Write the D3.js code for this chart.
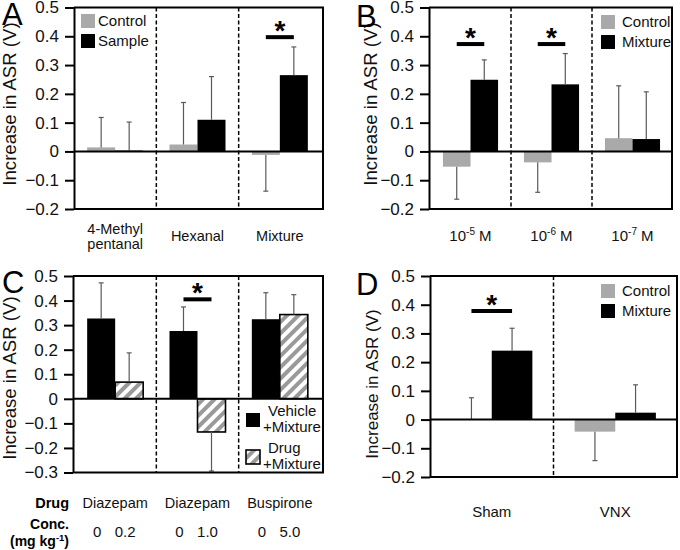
<!DOCTYPE html>
<html>
<head>
<meta charset="utf-8">
<script src="https://cdn.jsdelivr.net/npm/d3@7"></script>
<style>
  body { margin: 0; background: #fff; }
  svg { display: block; font-family: "Liberation Sans", Arial, sans-serif; }
</style>
</head>
<body>
<svg id="fig" width="680" height="550"></svg>
<script>
// ---- data ----
var ticksA = [-0.2, -0.1, 0, 0.1, 0.2, 0.3, 0.4, 0.5];
var ticksC = [-0.3, -0.2, -0.1, 0, 0.1, 0.2, 0.3, 0.4, 0.5];

var groupsA = [["4-Methyl", "pentanal"], ["Hexanal"], ["Mixture"]];
var controlA = [0.014, 0.024, -0.012];
var controlErrA = [0.104, 0.146, 0.126];
var sampleA = [0.003, 0.110, 0.265];
var sampleErrA = [0.099, 0.150, 0.098];

var groupsB = ["-5", "-6", "-7"]; // exponents of 10 M
var controlB = [-0.053, -0.038, 0.046];
var controlErrB = [0.113, 0.104, 0.182];
var mixtureB = [0.249, 0.233, 0.043];
var mixtureErrB = [0.069, 0.107, 0.164];

var drugsC = ["Diazepam", "Diazepam", "Buspirone"];
var vehicleConcC = ["0", "0", "0"];
var drugConcC = ["0.2", "1.0", "5.0"];
var vehicleC = [0.327, 0.276, 0.324];
var vehicleErrC = [0.145, 0.098, 0.108];
var drugC = [0.068, -0.135, 0.343];
var drugErrC = [0.119, 0.159, 0.081];

var groupsD = ["Sham", "VNX"];
var controlD = [0.002, -0.042];
var controlErrD = [0.074, 0.101];
var mixtureD = [0.240, 0.024];
var mixtureErrD = [0.078, 0.097];

var GRAY = "#a9a9a9";
var svg = d3.select("#fig");

// hatch for drug bars
var pat = svg.append("defs").append("pattern")
    .attr("id", "hatch")
    .attr("patternUnits", "userSpaceOnUse")
    .attr("width", 8).attr("height", 8)
    .attr("patternTransform", "rotate(45)");
pat.append("rect").attr("width", 8).attr("height", 8).attr("fill", "#fff");
pat.append("rect").attr("width", 4).attr("height", 8).attr("fill", "#9a9a9a");

var fmt = function (d) { return d === 0 ? "0" : d3.format(".1f")(d); };

function panel(o) {
    var g = svg.append("g");
    var y = d3.scaleLinear().domain(o.domain).range([o.bottom, o.top]);
    var x = d3.scaleBand().domain(d3.range(o.n)).range(o.xr);
    var xi = d3.scaleBand().domain(d3.range(o.series.length))
        .range([0, x.bandwidth()]).paddingOuter(o.pad);

    // bars
    o.series.forEach(function (s, si) {
        g.selectAll(null).data(s.values).enter().append("rect")
            .attr("x", function (d, i) { return x(i) + xi(si); })
            .attr("width", xi.bandwidth())
            .attr("y", function (d) { return y(Math.max(0, d)); })
            .attr("height", function (d) { return Math.abs(y(d) - y(0)); })
            .attr("fill", s.fill)
            .attr("stroke", s.stroke || "none")
            .attr("stroke-width", 1.6);
    });
    // error bars
    o.series.forEach(function (s, si) {
        s.values.forEach(function (v, i) {
            var cx = x(i) + xi(si) + xi.bandwidth() / 2;
            var end = v + (v < 0 ? -1 : 1) * s.errs[i];
            g.append("line").attr("x1", cx).attr("x2", cx)
                .attr("y1", y(v)).attr("y2", y(end))
                .attr("stroke", "#5a5a5a").attr("stroke-width", 1.2);
            g.append("line").attr("x1", cx - 2.5).attr("x2", cx + 2.5)
                .attr("y1", y(end)).attr("y2", y(end))
                .attr("stroke", "#5a5a5a").attr("stroke-width", 1.2);
        });
    });
    // group separators
    d3.range(1, o.n).forEach(function (i) {
        g.append("line").attr("x1", x(i)).attr("x2", x(i))
            .attr("y1", o.top).attr("y2", o.bottom)
            .attr("stroke", "#000").attr("stroke-width", 1.5)
            .attr("stroke-dasharray", "4,2.5");
    });
    // zero line and frame
    g.append("line").attr("x1", o.left).attr("x2", o.right)
        .attr("y1", y(0)).attr("y2", y(0))
        .attr("stroke", "#000").attr("stroke-width", 2);
    g.append("path")
        .attr("d", "M" + o.left + "," + o.top + "H" + o.right + "V" + o.bottom + "H" + o.left)
        .attr("fill", "none").attr("stroke", "#000").attr("stroke-width", 2);

    var ax = g.append("g").attr("transform", "translate(" + o.left + ",0)")
        .call(d3.axisLeft(y).tickValues(o.ticks).tickFormat(fmt)
            .tickSize(9).tickSizeOuter(0).tickPadding(6));
    ax.select(".domain").attr("stroke-width", 2);
    ax.selectAll(".tick line").attr("stroke-width", 2);
    ax.selectAll("text").attr("font-size", 17).attr("fill", "#111")
        .attr("font-family", "Liberation Sans, Arial, sans-serif");

    // y label
    g.append("text")
        .attr("transform", "translate(" + o.ylx + "," + o.yly + ") rotate(-90)")
        .attr("text-anchor", "middle").attr("font-size", o.ylSize)
        .attr("fill", "#111").text("Increase in ASR (V)");
    // panel letter
    g.append("text").attr("x", o.letterX).attr("y", o.letterY)
        .attr("font-size", 31).attr("fill", "#000").text(o.letter);

    // significance marks
    o.sig.forEach(function (sg) {
        var a = x(sg.group) + xi(0) + xi.bandwidth() / 2;
        var b = x(sg.group) + xi(1) + xi.bandwidth() / 2;
        g.append("line").attr("x1", a).attr("x2", b)
            .attr("y1", y(sg.level)).attr("y2", y(sg.level))
            .attr("stroke", "#000").attr("stroke-width", 4);
        g.append("text").attr("x", (a + b) / 2).attr("y", y(sg.level) + 3)
            .attr("text-anchor", "middle").attr("font-size", 28)
            .attr("font-weight", "bold").text("*");
    });

    // legend
    o.legend.items.forEach(function (it, i) {
        var ly = o.legend.y + i * o.legend.step;
        g.append("rect").attr("x", o.legend.x).attr("y", ly)
            .attr("width", 14).attr("height", 14)
            .attr("fill", it.fill).attr("stroke", it.stroke || "none")
            .attr("stroke-width", 1.6);
        it.lines.forEach(function (t, j) {
            g.append("text").attr("x", o.legend.x + o.legend.tx[j])
                .attr("y", ly + 12 + o.legend.ty[j])
                .attr("font-size", 15).attr("fill", "#111").text(t);
        });
    });

    return { x: x, xi: xi, g: g };
}

// ---- A ----
var pA = panel({
    n: 3, xr: [74, 321], left: 74, right: 323, top: 7.5, bottom: 209,
    domain: [-0.2, 0.5], ticks: ticksA, pad: 0.47,
    series: [{ values: controlA, errs: controlErrA, fill: GRAY },
             { values: sampleA, errs: sampleErrA, fill: "#000" }],
    ylx: 16, yly: 104, ylSize: 18.6, letter: "A", letterX: 2, letterY: 25,
    sig: [{ group: 2, level: 0.397 }],
    legend: { x: 81, y: 14, step: 20, tx: [17], ty: [0],
        items: [{ fill: GRAY, lines: ["Control"] }, { fill: "#000", lines: ["Sample"] }] }
});
groupsA.forEach(function (lines, i) {
    var cx = pA.x(i) + pA.x.bandwidth() / 2;
    var t = pA.g.append("text").attr("text-anchor", "middle")
        .attr("font-size", 14.5).attr("fill", "#111");
    if (lines.length === 1) {
        t.attr("x", cx).attr("y", 241).text(lines[0]);
    } else {
        t.attr("x", cx).attr("y", 234).text(lines[0]);
        pA.g.append("text").attr("text-anchor", "middle").attr("font-size", 14.5)
            .attr("fill", "#111").attr("x", cx).attr("y", 249).text(lines[1]);
    }
});

// ---- B ----
var pB = panel({
    n: 3, xr: [430, 673], left: 429, right: 672, top: 7.5, bottom: 209,
    domain: [-0.2, 0.5], ticks: ticksA, pad: 0.47,
    series: [{ values: controlB, errs: controlErrB, fill: GRAY },
             { values: mixtureB, errs: mixtureErrB, fill: "#000" }],
    ylx: 377, yly: 104, ylSize: 18.6, letter: "B", letterX: 356, letterY: 27,
    sig: [{ group: 0, level: 0.373 }, { group: 1, level: 0.373 }],
    legend: { x: 601, y: 15, step: 20, tx: [21], ty: [0],
        items: [{ fill: GRAY, lines: ["Control"] }, { fill: "#000", lines: ["Mixture"] }] }
});
groupsB.forEach(function (e, i) {
    var cx = pB.x(i) + pB.x.bandwidth() / 2;
    var t = pB.g.append("text").attr("text-anchor", "middle")
        .attr("x", cx).attr("y", 241).attr("font-size", 15).attr("fill", "#111");
    t.append("tspan").text("10");
    t.append("tspan").attr("dy", -6).attr("font-size", 10).text(e);
    t.append("tspan").attr("dy", 6).text(" M");
});

// ---- C ----
var pC = panel({
    n: 3, xr: [74, 321], left: 73, right: 323, top: 276, bottom: 472.5,
    domain: [-0.3, 0.5], ticks: ticksC, pad: 0.47,
    series: [{ values: vehicleC, errs: vehicleErrC, fill: "#000" },
             { values: drugC, errs: drugErrC, fill: "url(#hatch)", stroke: "#000" }],
    ylx: 16, yly: 378, ylSize: 18.6, letter: "C", letterX: 2, letterY: 293,
    sig: [{ group: 1, level: 0.405 }],
    legend: { x: 246, y: 413, step: 37, tx: [22, 17], ty: [-9, 7],
        items: [{ fill: "#000", lines: ["Vehicle", "+Mixture"] },
                { fill: "url(#hatch)", stroke: "#000", lines: ["Drug", "+Mixture"] }] }
});
pC.g.append("text").attr("x", 69).attr("y", 508).attr("text-anchor", "end")
    .attr("font-size", 14.5).attr("font-weight", "bold").text("Drug");
pC.g.append("text").attr("x", 69).attr("y", 529).attr("text-anchor", "end")
    .attr("font-size", 14).attr("font-weight", "bold").text("Conc.");
var mg = pC.g.append("text").attr("x", 69).attr("y", 546).attr("text-anchor", "end")
    .attr("font-size", 14).attr("font-weight", "bold");
mg.append("tspan").text("(mg kg");
mg.append("tspan").attr("dy", -5).attr("font-size", 9.5).text("-1");
mg.append("tspan").attr("dy", 5).text(")");
drugsC.forEach(function (d, i) {
    var cx = pC.x(i) + pC.x.bandwidth() / 2;
    pC.g.append("text").attr("x", cx).attr("y", 508).attr("text-anchor", "middle")
        .attr("font-size", 14.5).attr("fill", "#111").text(d);
    [vehicleConcC[i], drugConcC[i]].forEach(function (c, si) {
        pC.g.append("text")
            .attr("x", pC.x(i) + pC.xi(si) + pC.xi.bandwidth() / 2 - 4)
            .attr("y", 537).attr("text-anchor", "middle")
            .attr("font-size", 15).attr("fill", "#111").text(c);
    });
});

// ---- D ----
var pD = panel({
    n: 2, xr: [430, 677], left: 430, right: 677, top: 276, bottom: 477,
    domain: [-0.2, 0.5], ticks: ticksA, pad: 0.52,
    series: [{ values: controlD, errs: controlErrD, fill: GRAY },
             { values: mixtureD, errs: mixtureErrD, fill: "#000" }],
    ylx: 378, yly: 384, ylSize: 17, letter: "D", letterX: 356, letterY: 295,
    sig: [{ group: 0, level: 0.378 }],
    legend: { x: 601, y: 284, step: 20, tx: [21], ty: [0],
        items: [{ fill: GRAY, lines: ["Control"] }, { fill: "#000", lines: ["Mixture"] }] }
});
groupsD.forEach(function (d, i) {
    pD.g.append("text").attr("x", pD.x(i) + pD.x.bandwidth() / 2).attr("y", 517)
        .attr("text-anchor", "middle").attr("font-size", 15).attr("fill", "#111").text(d);
});
</script>
</body>
</html>
